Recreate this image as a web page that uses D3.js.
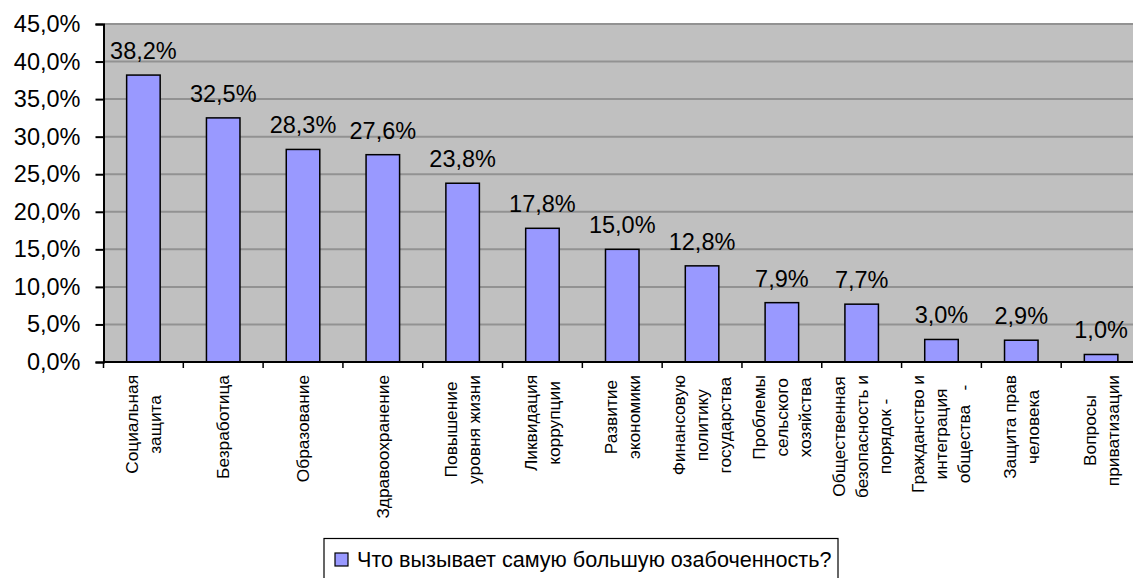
<!DOCTYPE html>
<html>
<head>
<meta charset="utf-8">
<script src="https://cdn.jsdelivr.net/npm/d3@7"></script>
<style>
  body { margin: 0; background: #fff; }
  svg { display: block; font-family: "Liberation Sans", Arial, sans-serif; }
</style>
</head>
<body>
<div id="chart"></div>
<script>
// категории (строки подписи, как они переносятся на графике)
var categories = [
  ["Социальная", "защита"],
  ["Безработица"],
  ["Образование"],
  ["Здравоохранение"],
  ["Повышение", "уровня жизни"],
  ["Ликвидация", "коррупции"],
  ["Развитие", "экономики"],
  ["Финансовую", "политику", "государства"],
  ["Проблемы", "сельского", "хозяйства"],
  ["Общественная", "безопасность и", "порядок -"],
  ["Гражданство и", "интеграция", "общества   -"],
  ["Защита прав", "человека"],
  ["Вопросы", "приватизации"]
];
var values = [38.2, 32.5, 28.3, 27.6, 23.8, 17.8, 15.0, 12.8, 7.9, 7.7, 3.0, 2.9, 1.0];
var yTicks = [0, 5, 10, 15, 20, 25, 30, 35, 40, 45];
var seriesName = "Что вызывает самую большую озабоченность?";

var width = 1133, height = 578;
var margins = { top: 24, left: 103.5, right: -8, bottom: 216 };

var fmt = function(v) { return v.toFixed(1).replace(".", ",") + "%"; };

var svg = d3.select("#chart").append("svg")
  .attr("width", width)
  .attr("height", height);

var xScale = d3.scaleBand()
  .domain(d3.range(categories.length))
  .range([margins.left, width - margins.right])
  .paddingInner(0.58)
  .paddingOuter(0.29);

var yScale = d3.scaleLinear()
  .domain([0, 45])
  .range([height - margins.bottom, margins.top]);

// фон области построения
svg.append("rect")
  .attr("x", margins.left)
  .attr("y", yScale(45))
  .attr("width", width - margins.right - margins.left)
  .attr("height", yScale(0) - yScale(45))
  .attr("fill", "#c0c0c0");

// сетка
svg.append("g")
  .selectAll("line")
  .data(yTicks.filter(function(d) { return d > 0; }))
  .enter()
  .append("line")
  .attr("x1", margins.left)
  .attr("x2", width)
  .attr("y1", function(d) { return yScale(d); })
  .attr("y2", function(d) { return yScale(d); })
  .attr("stroke", "#929292")
  .attr("stroke-width", 2);

// столбцы
svg.append("g")
  .selectAll("rect")
  .data(values)
  .enter()
  .append("rect")
  .attr("x", function(d, i) { return xScale(i); })
  .attr("y", function(d) { return yScale(d); })
  .attr("width", xScale.bandwidth())
  .attr("height", function(d) { return yScale(0) - yScale(d); })
  .attr("fill", "#9999ff")
  .attr("stroke", "#000")
  .attr("stroke-width", 1.5);

// подписи значений
svg.append("g")
  .selectAll("text")
  .data(values)
  .enter()
  .append("text")
  .attr("x", function(d, i) { return xScale(i) + xScale.bandwidth() / 2; })
  .attr("y", function(d) { return yScale(d) - 16; })
  .attr("text-anchor", "middle")
  .attr("font-size", 23.5)
  .attr("fill", "#000")
  .text(fmt);

// ось Y
var yAxis = d3.axisLeft(yScale)
  .tickValues(yTicks)
  .tickSize(8)
  .tickPadding(15)
  .tickFormat(fmt);

svg.append("g")
  .attr("transform", "translate(" + margins.left + ",0)")
  .call(yAxis)
  .call(function(g) {
    g.select(".domain").attr("stroke-width", 2);
    g.selectAll(".tick line").attr("stroke-width", 2);
    g.selectAll("text").attr("font-size", 23.5).attr("font-family", null).attr("fill", "#000");
  });

// ось X
var step = xScale.step();
var x0 = margins.left;
var gx = svg.append("g");
gx.append("line")
  .attr("x1", margins.left)
  .attr("x2", width)
  .attr("y1", yScale(0))
  .attr("y2", yScale(0))
  .attr("stroke", "#000")
  .attr("stroke-width", 2);
gx.selectAll("line.tick")
  .data(d3.range(categories.length + 1))
  .enter()
  .append("line")
  .attr("class", "tick")
  .attr("x1", function(i) { return x0 + i * step; })
  .attr("x2", function(i) { return x0 + i * step; })
  .attr("y1", yScale(0))
  .attr("y2", yScale(0) + 6)
  .attr("stroke", "#000")
  .attr("stroke-width", 1.5);

// подписи категорий (повернуты)
var lineGap = 23;
var labels = gx.selectAll("g.lbl")
  .data(categories)
  .enter()
  .append("g")
  .attr("class", "lbl");

labels.each(function(lines, i) {
  var g = d3.select(this);
  var cx = xScale(i) + xScale.bandwidth() / 2;
  var n = lines.length;
  var texts = g.selectAll("text")
    .data(lines)
    .enter()
    .append("text")
    .attr("font-size", 17.3)
    .attr("fill", "#000")
    .attr("text-anchor", "middle")
    .text(function(d) { return d; })
    .style("white-space", "pre");
  var maxLen = 0;
  texts.each(function() { maxLen = Math.max(maxLen, this.getComputedTextLength()); });
  var cy = yScale(0) + 13 + maxLen / 2;
  texts.attr("transform", function(d, j) {
    var lx = cx + (j - (n - 1) / 2) * lineGap + 6;
    return "translate(" + lx + "," + cy + ") rotate(-90)";
  });
});

// легенда
var legend = svg.append("g").attr("transform", "translate(324,538.5)");
legend.append("rect")
  .attr("width", 514)
  .attr("height", 45)
  .attr("fill", "#fff")
  .attr("stroke", "#000")
  .attr("stroke-width", 1.2);
legend.append("rect")
  .attr("x", 11)
  .attr("y", 14.5)
  .attr("width", 13)
  .attr("height", 13)
  .attr("fill", "#9999ff")
  .attr("stroke", "#000")
  .attr("stroke-width", 1.2);
legend.append("text")
  .attr("x", 33)
  .attr("y", 28.5)
  .attr("font-size", 21.6)
  .attr("fill", "#000")
  .text(seriesName);
</script>
</body>
</html>
